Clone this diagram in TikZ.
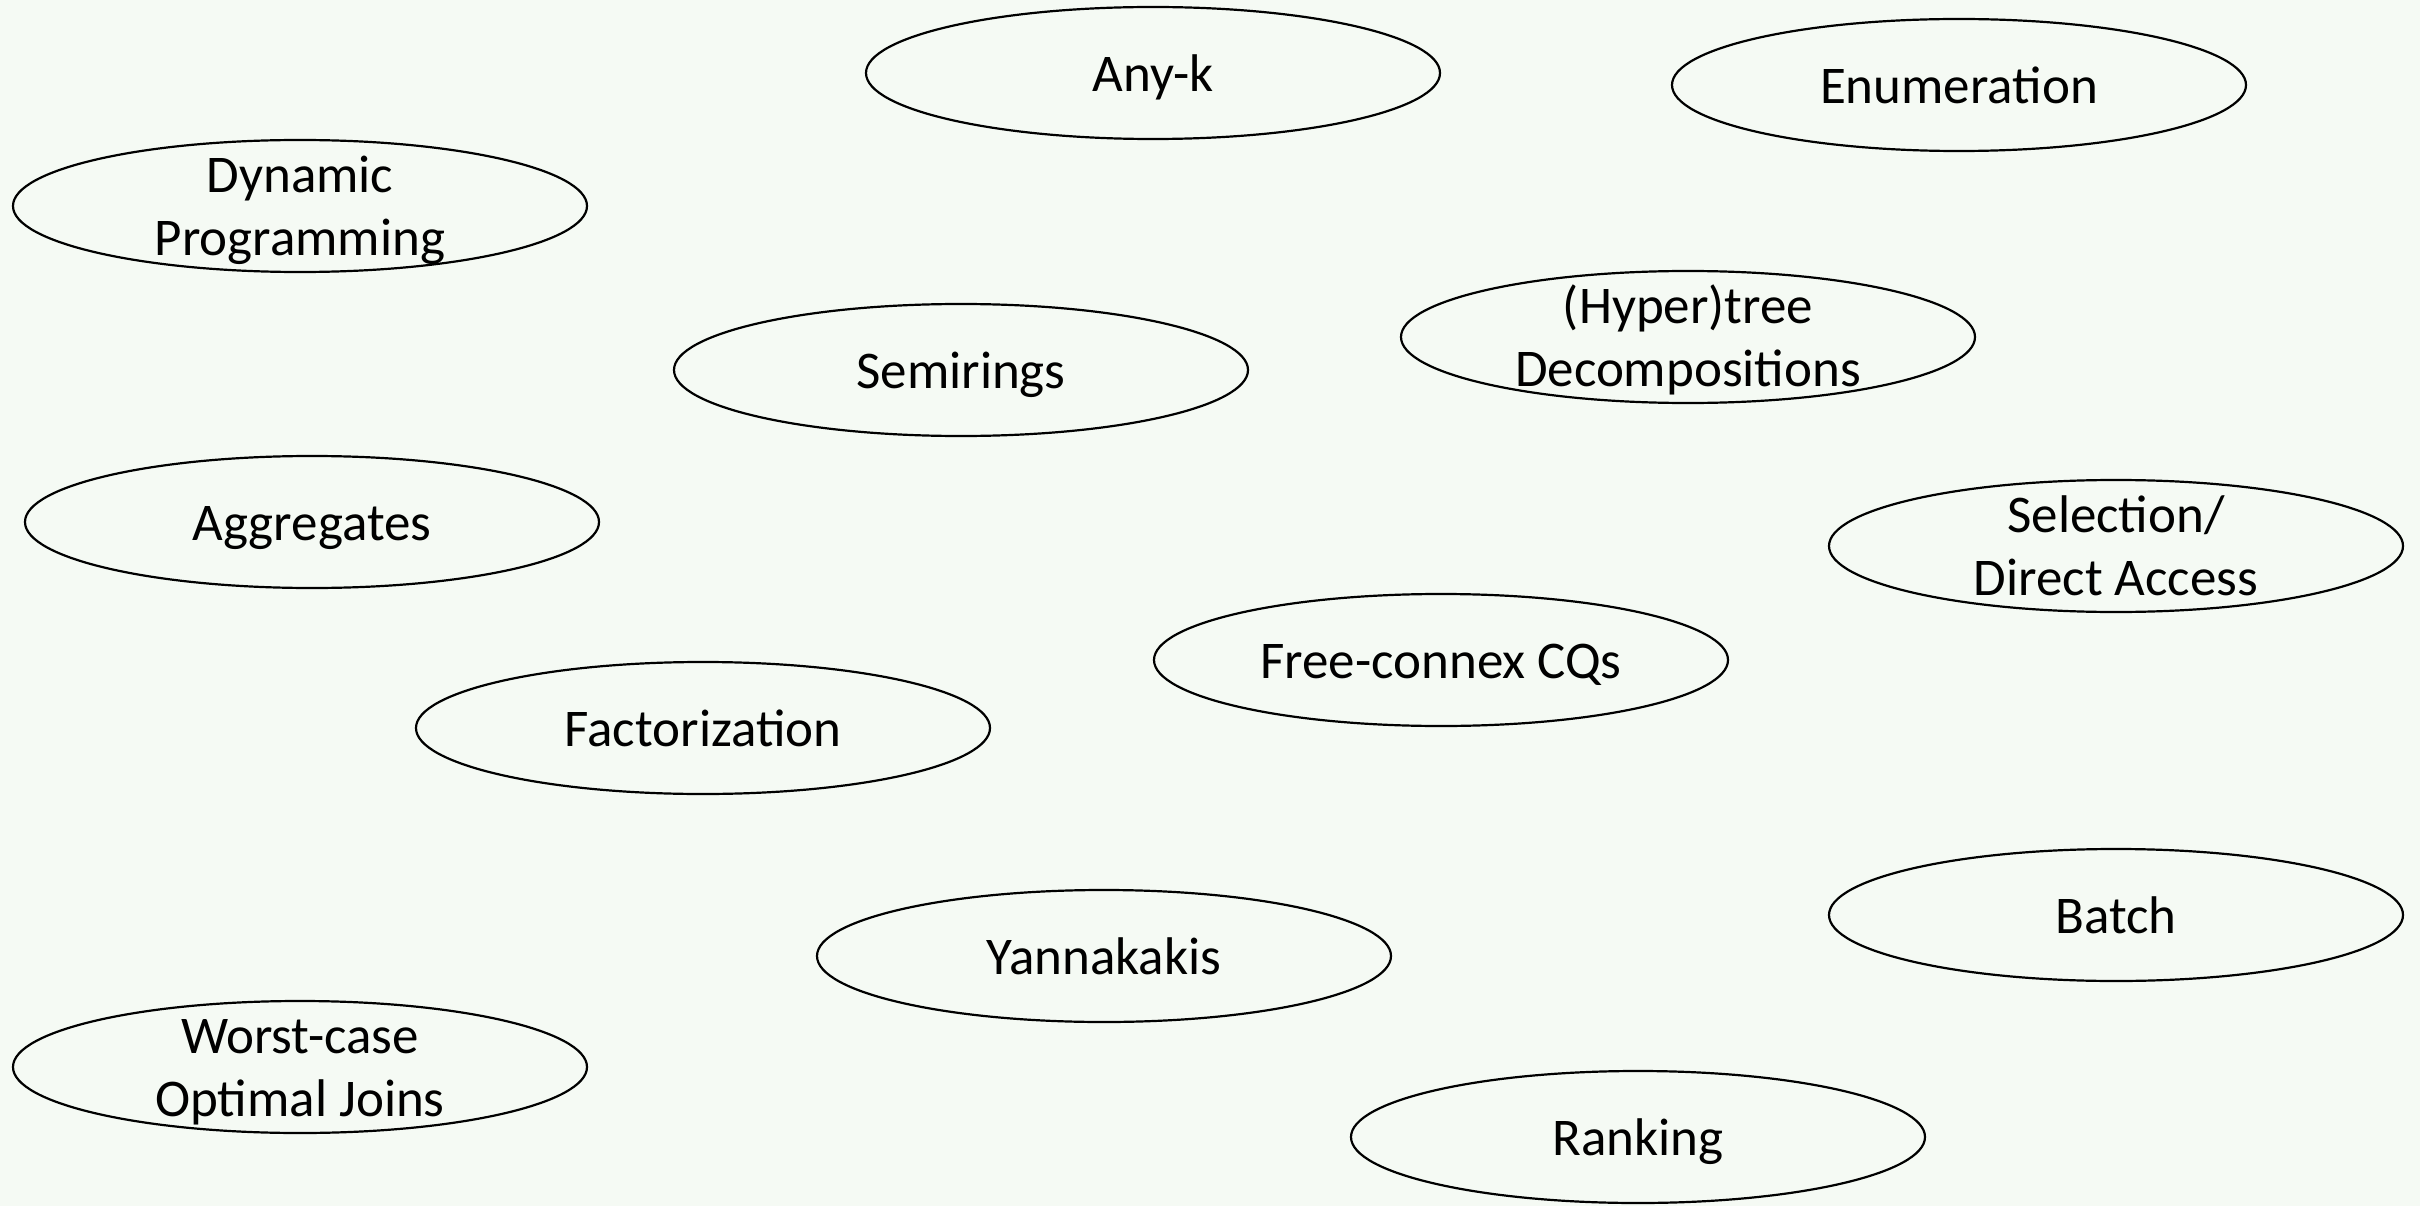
\documentclass[tikz,border=0pt]{standalone}
\usepackage{fontspec}
\setmainfont{Carlito}
\usetikzlibrary{shapes.geometric}
\definecolor{bgpaper}{HTML}{F5FAF4}
% centred label, one or more lines, nudged a little down
\newcommand{\topictext}[1]{\raisebox{-12pt}[0pt][0pt]{\begin{tabular}{@{}c@{}}#1\end{tabular}}}
\tikzset{
  topic/.style={ellipse, draw=black, line width=2.2pt, minimum width=574pt,
    minimum height=132pt, inner xsep=0pt, inner ysep=0pt,
    font=\fontsize{53}{63}\selectfont}
}
\begin{document}
\begin{tikzpicture}[x=1pt,y=-1pt]
  \fill[bgpaper] (0,0) rectangle (2420,1206);
  \useasboundingbox (0,0) rectangle (2420,1206);
  \node[topic] (anyk)   at (1153,73)   {\topictext{Any-k}};
  \node[topic] (enum)   at (1959,85)   {\topictext{Enumeration}};
  \node[topic] (dynp)   at (300,206)   {\topictext{Dynamic\\Programming}};
  \node[topic] (semi)   at (961,370)   {\topictext{Semirings}};
  \node[topic] (htree)  at (1688,337)  {\topictext{(Hyper)tree\\Decompositions}};
  \node[topic] (aggr)   at (312,522)   {\topictext{Aggregates}};
  \node[topic] (select) at (2116,546)  {\topictext{Selection/\\Direct Access}};
  \node[topic] (fcq)    at (1441,660)  {\topictext{Free-connex CQs}};
  \node[topic] (fact)   at (703,728)   {\topictext{Factorization}};
  \node[topic] (batch)  at (2116,915)  {\topictext{Batch}};
  \node[topic] (yann)   at (1104,956)  {\topictext{Yannakakis}};
  \node[topic] (wcoj)   at (300,1067)  {\topictext{Worst-case\\Optimal Joins}};
  \node[topic] (rank)   at (1638,1137) {\topictext{Ranking}};
\end{tikzpicture}
\end{document}
